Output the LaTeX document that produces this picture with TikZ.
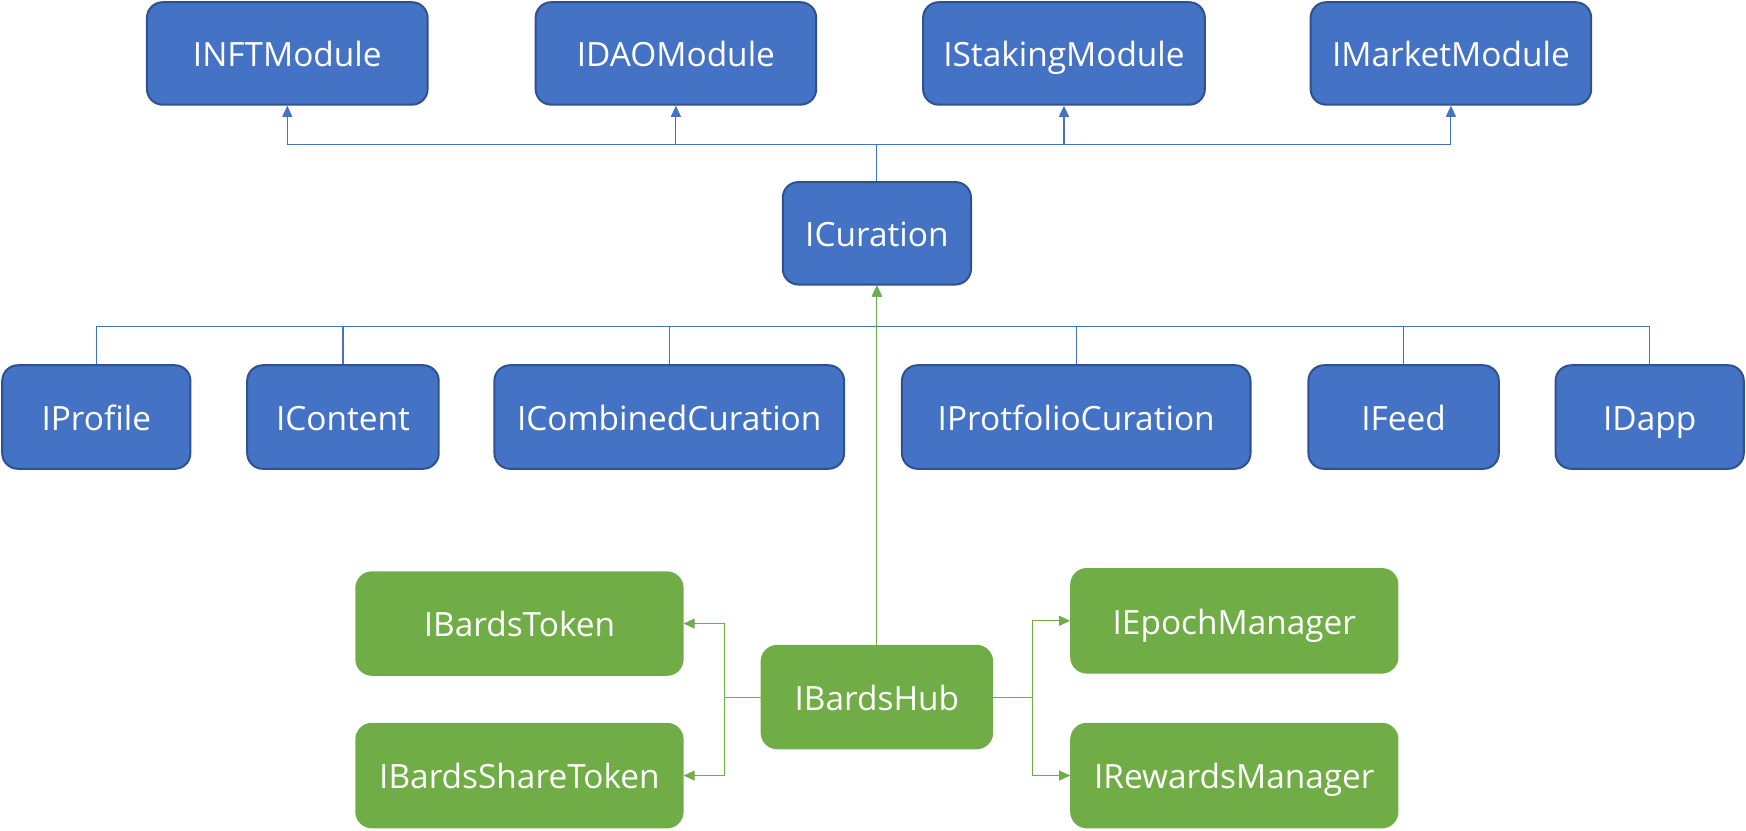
\documentclass[tikz,border=0pt]{standalone}
\usepackage{fontspec}
\setmainfont{Open Sans}
\usetikzlibrary{arrows.meta}
\definecolor{modblue}{HTML}{4472C4}
\definecolor{modedge}{HTML}{2F528F}
\definecolor{hubgreen}{HTML}{70AD47}

\begin{document}
\begin{tikzpicture}[x=0.5pt, y=-0.5pt,
    iface/.style ={rectangle, rounded corners=7pt, fill=modblue, draw=modedge, line width=0.9pt,
      text=white, inner sep=0pt, minimum height=46pt, text height=12pt, text depth=0pt,
      font=\fontsize{15}{18}\selectfont},
    hubface/.style ={iface, fill=hubgreen, draw=hubgreen},
    bluelink/.style ={draw=modblue, line width=0.5pt},
    greenlink/.style ={draw=hubgreen, line width=0.5pt},
    tip/.style ={-{Triangle[length=5pt, width=4.5pt]}}]
   \useasboundingbox (0,0) rectangle (1568,745.4);
   % modules
   \node[iface, minimum width=126pt] (nftmod)  at (258,48)  {INFTModule};
   \node[iface, minimum width=126pt] (daomod)  at (607,48)  {IDAOModule};
   \node[iface, minimum width=126.5pt] (stakemod)  at (955.5,48)  {IStakingModule};
   \node[iface, minimum width=126pt] (marketmod)  at (1303,48)  {IMarketModule};
   \node[iface, minimum width=84.5pt] (curation)  at (787.5,209.5)  {ICuration};
   % curations
   \node[iface, minimum width=84.5pt, minimum height=46.5pt] (profile)  at (86.5,374.5)  {IProfile};
   \node[iface, minimum width=86pt, minimum height=46.5pt] (content)  at (308,374.5)  {IContent};
   \node[iface, minimum width=157pt, minimum height=46.5pt] (combined)  at (601,374.5)  {ICombinedCuration};
   \node[iface, minimum width=156.5pt, minimum height=46.5pt] (portfolio)  at (966.5,374.5)  {IProtfolioCuration};
   \node[iface, minimum width=85.5pt, minimum height=46.5pt] (feed)  at (1260.5,374.5)  {IFeed};
   \node[iface, minimum width=84.5pt, minimum height=46.5pt] (dapp)  at (1481.5,374.5)  {IDapp};
   % hub
   \node[hubface, minimum width=146.5pt] (token)  at (466.5,560)  {IBardsToken};
   \node[hubface, minimum width=146.5pt, minimum height=46.5pt] (sharetoken)  at (466.5,696.5)  {IBardsShareToken};
   \node[hubface, minimum width=103.5pt] (hub)  at (787.5,626)  {IBardsHub};
   \node[hubface, minimum width=146.5pt, minimum height=46.5pt] (epoch)  at (1108.5,557.5)  {IEpochManager};
   \node[hubface, minimum width=146.5pt, minimum height=46.5pt] (rewards)  at (1108.5,696.5)  {IRewardsManager};

   \coordinate (topbus) at (curation.north |- 0,130);
   \coordinate (midbus) at (curation.south |- 0,293);
   \coordinate (lsplit) at (651,626);
   \coordinate (rsplit) at (927,626);

   \draw[bluelink] (curation.north) -- (topbus);
   \foreach \m in {nftmod, daomod, stakemod, marketmod}
     \draw[bluelink, tip] (topbus) -| (\m.south);
   \foreach \c in {profile, content, combined, portfolio, feed, dapp}
     \draw[bluelink] (\c.north) |- (midbus);
   \draw[bluelink, tip] (midbus) -- (curation.south);

   \draw[greenlink, tip] (hub.north) -- (curation.south);
   \draw[greenlink] (hub.west) -- (lsplit);
   \draw[greenlink, tip] (lsplit) |- (token.east);
   \draw[greenlink, tip] (lsplit) |- (sharetoken.east);
   \draw[greenlink] (hub.east) -- (rsplit);
   \draw[greenlink, tip] (rsplit) |- (epoch.west);
   \draw[greenlink, tip] (rsplit) |- (rewards.west);
 \end{tikzpicture}
\end{document}
